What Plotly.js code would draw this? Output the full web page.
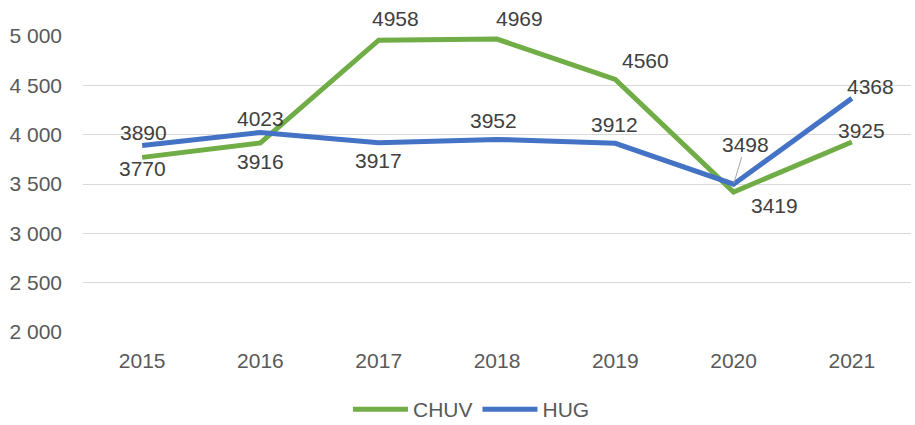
<!DOCTYPE html>
<html>
<head>
<meta charset="utf-8">
<script src="https://cdn.plot.ly/plotly-3.0.1.min.js"></script>
<style>
  html, body { margin: 0; padding: 0; background: #fff; }
  #chart { width: 915px; height: 425px; }
</style>
</head>
<body>
<div id="chart"></div>
<script>
const years = ["2015", "2016", "2017", "2018", "2019", "2020", "2021"];
const chuv = [3770, 3916, 4958, 4969, 4560, 3419, 3925];
const hug = [3890, 4023, 3917, 3952, 3912, 3498, 4368];

// label offsets in pixels [x, y], as placed in the original
const chuvShift = [[0, -11], [0, -19], [17, 22], [22, 21], [30, 19], [41, -14], [10, 12]];
const hugShift = [[1, 13], [0, 14], [0, -18], [-4, 19], [-1, 19], [12, 40], [19, 12]];

const FONT = "'Liberation Sans', Arial, sans-serif";
const SIZE = 21;
const GREEN = "#70AD47";
const BLUE = "#4472C4";

const traces = [
  {
    x: years, y: chuv, name: "CHUV", type: "scatter", mode: "lines",
    line: { color: GREEN, width: 5 }, hoverinfo: "skip"
  },
  {
    x: years, y: hug, name: "HUG", type: "scatter", mode: "lines",
    line: { color: BLUE, width: 5 }, hoverinfo: "skip"
  }
];

const annotations = [];
function addLabels(values, shifts) {
  values.forEach((v, i) => {
    annotations.push({
      x: i, y: v, xref: "x", yref: "y",
      text: String(v), showarrow: false,
      xshift: shifts[i][0], yshift: shifts[i][1],
      font: { family: FONT, size: SIZE, color: "#404040" }
    });
  });
}
addLabels(chuv, chuvShift);
addLabels(hug, hugShift);

// 2020 HUG label sits away from its point with a leader line
const lead = annotations[chuv.length + 5];
lead.showarrow = true;
lead.arrowhead = 0;
lead.arrowwidth = 1;
lead.arrowcolor = "#a6a6a6";
lead.ax = lead.xshift;
lead.ay = -lead.yshift;
lead.xshift = 0;
lead.yshift = 0;
lead.standoff = 1;

const layout = {
  width: 915,
  height: 425,
  margin: { l: 83, r: 4, t: 36, b: 93, autoexpand: false },
  paper_bgcolor: "#fff",
  plot_bgcolor: "#fff",
  separators: ", ",
  font: { family: FONT, size: SIZE, color: "#595959" },
  showlegend: true,
  legend: {
    orientation: "h",
    x: 0.32, xanchor: "left",
    y: -0.262, yanchor: "middle",
    itemwidth: 55,
    font: { family: FONT, size: SIZE, color: "#595959" }
  },
  xaxis: {
    type: "category",
    range: [-0.5, 6.5],
    automargin: false,
    showgrid: false,
    zeroline: false,
    showline: false,
    ticks: "",
    ticklabelstandoff: 14,
    tickfont: { family: FONT, size: SIZE, color: "#595959" }
  },
  yaxis: {
    range: [2000, 5000],
    dtick: 500,
    tickformat: ",d",
    automargin: false,
    gridcolor: "#d9d9d9",
    gridwidth: 1.3,
    zeroline: false,
    showline: false,
    ticks: "",
    ticklabelstandoff: 20,
    tickfont: { family: FONT, size: SIZE, color: "#595959" }
  },
  annotations: annotations
};

Plotly.newPlot("chart", traces, layout, { displayModeBar: false });
</script>
</body>
</html>
